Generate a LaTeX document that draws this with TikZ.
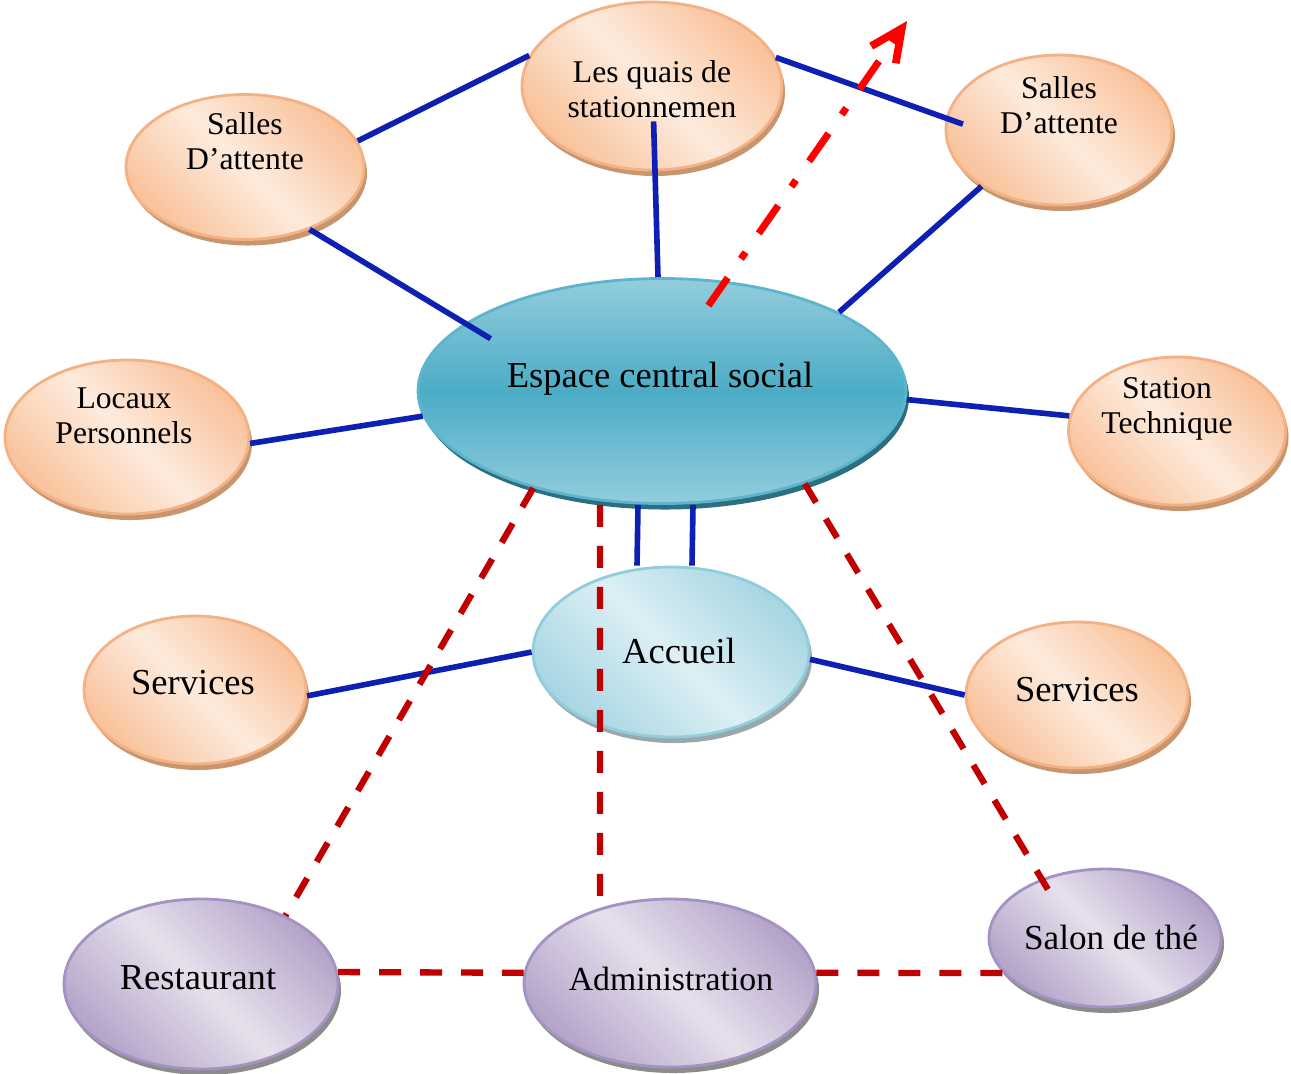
\documentclass[tikz,border=0pt]{standalone}
\usepackage{fontspec}
\setmainfont{Liberation Serif}
\usetikzlibrary{shapes.geometric,shadows,arrows.meta}
\definecolor{peachlight}{HTML}{FDEBDD}
\definecolor{peachdark}{HTML}{F9C29A}
\definecolor{peachline}{HTML}{F4B183}
\definecolor{peachshadow}{HTML}{C8966E}
\definecolor{tealmid}{HTML}{4BACC6}
\definecolor{teallight}{HTML}{93CDDD}
\definecolor{tealline}{HTML}{5BB5CC}
\definecolor{tealshadow}{HTML}{2E6E80}
\definecolor{cyanlight}{HTML}{DCEFF4}
\definecolor{cyandark}{HTML}{A7D6E3}
\definecolor{cyanline}{HTML}{92CDDC}
\definecolor{cyanshadow}{HTML}{9AA8AC}
\definecolor{lilaclight}{HTML}{E6E0EC}
\definecolor{lilacdark}{HTML}{B4A4C9}
\definecolor{lilacline}{HTML}{A293C3}
\definecolor{greyshadow}{HTML}{8C8C8C}
\definecolor{linkblue}{HTML}{0E1FB4}
\definecolor{linkred}{HTML}{C00000}
\definecolor{arrowred}{HTML}{FF0000}
\begin{document}
\begin{tikzpicture}[
	bubble/.style={ellipse, inner sep=0pt, line width=0.8pt},
	peach/.style={bubble, draw=peachline, left color=peachdark, right color=peachdark, middle color=peachlight, shading angle=-45,
		drop shadow={shadow xshift=0.3mm, shadow yshift=-0.6mm, fill=peachshadow, opacity=1}},
	teal/.style={bubble, draw=tealline, top color=teallight, bottom color=teallight, middle color=tealmid,
		drop shadow={shadow xshift=0.3mm, shadow yshift=-0.6mm, fill=tealshadow, opacity=1}},
	cyan/.style={bubble, draw=cyanline, left color=cyandark, right color=cyandark, middle color=cyanlight, shading angle=-45,
		drop shadow={shadow xshift=0.3mm, shadow yshift=-0.6mm, fill=cyanshadow, opacity=1}},
	lilac/.style={bubble, draw=lilacline, left color=lilacdark, right color=lilacdark, middle color=lilaclight, shading angle=-45,
		drop shadow={shadow xshift=0.3mm, shadow yshift=-0.6mm, fill=greyshadow, opacity=1}},
	smalltxt/.style={align=center, inner sep=0pt, font=\fontsize{9}{10}\selectfont},
	bigtxt/.style={inner sep=0pt, font=\fontsize{10.4}{12}\selectfont},
	bluelink/.style={draw=linkblue, line width=1.6pt},
	redlink/.style={draw=linkred, line width=1.8pt, dash pattern=on 2.2mm off 1.9mm},
	exitarrow/.style={draw=arrowred, line width=2pt, dash pattern=on 3.4mm off 2.3mm on 0.8mm off 2.3mm,
		-{Straight Barb[length=3.2mm, width=3mm, line width=2.2pt]}}
	]

	\useasboundingbox (0,0) rectangle (12.91,-10.73);

	% les bulles
	\node[peach, minimum width=2.60cm, minimum height=1.68cm] (quais) at (6.52,-0.86) {};
	\node[peach, minimum width=2.38cm, minimum height=1.45cm] (sallesL) at (2.45,-1.67) {};
	\node[peach, minimum width=2.26cm, minimum height=1.50cm] (sallesR) at (10.59,-1.30) {};
	\node[peach, minimum width=2.44cm, minimum height=1.54cm] (locaux) at (1.27,-4.37) {};
	\node[peach, minimum width=2.17cm, minimum height=1.48cm] (station) at (11.77,-4.31) {};
	\node[teal, minimum width=4.88cm, minimum height=2.25cm] (esp) at (6.62,-3.91) {};
	\node[cyan, minimum width=2.76cm, minimum height=1.70cm] (acc) at (6.71,-6.52) {};
	\node[peach, minimum width=2.22cm, minimum height=1.48cm] (servL) at (1.95,-6.90) {};
	\node[peach, minimum width=2.22cm, minimum height=1.46cm] (servR) at (10.77,-6.95) {};
	\node[lilac, minimum width=2.74cm, minimum height=1.70cm] (rest) at (2.01,-9.84) {};
	\node[lilac, minimum width=2.92cm, minimum height=1.68cm] (adm) at (6.70,-9.83) {};
	\node[lilac, minimum width=2.32cm, minimum height=1.38cm] (salon) at (11.05,-9.38) {};

	% les liaisons
	\draw[bluelink] (sallesL.13) -- (quais.166);
	\draw[bluelink, shorten >=-3mm] (sallesL.-44) -- (esp.161);
	\draw[bluelink, shorten <=-5mm] ([xshift=0.3mm]quais.south) -- ([xshift=-0.4mm]esp.north);
	\draw[bluelink, shorten >=-1.8mm] (quais.13) -- (sallesR.174);
	\draw[bluelink] (sallesR.216) -- (esp.24);
	\draw[bluelink] (locaux.-3) -- (esp.186);
	\draw[bluelink] (esp.-2) -- (station.172);
	\draw[bluelink] ([xshift=-2.4mm]esp.south) -- ([xshift=-3.4mm]acc.north);
	\draw[bluelink] ([xshift=3.1mm]esp.south) -- ([xshift=2.1mm]acc.north);
	\draw[bluelink] (servL.-3) -- (acc.west);
	\draw[bluelink] (acc.-3) -- (servR.west);

	\draw[redlink] (esp.217) -- (rest.39);
	\draw[redlink] ([xshift=-6.2mm]esp.south) -- (adm.133);
	\draw[redlink, shorten >=-2.8mm] (esp.-33) -- (salon.137);
	\draw[redlink] (rest.5) -- (adm.176);
	\draw[redlink] (adm.4) -- (salon.199);

	\coordinate (sortie) at (9.07,-0.21);
	\draw[exitarrow, shorten <=-3mm] (esp.60) -- (sortie);

	% les textes
	\node[smalltxt] (quaistxt) at (6.52,-0.895) {Les quais de\\stationnemen};
	\node[smalltxt] (sallesLtxt) at (2.45,-1.41) {Salles\\D’attente};
	\node[smalltxt] (sallesRtxt) at (10.59,-1.055) {Salles\\D’attente};
	\node[smalltxt] (locauxtxt) at (1.24,-4.16) {Locaux\\Personnels};
	\node[smalltxt] (stationtxt) at (11.67,-4.085) {Station\\Technique};
	\node[bigtxt] (esptxt) at (6.60,-3.79) {Espace central social};
	\node[bigtxt] (acctxt) at (6.79,-6.51) {Accueil};
	\node[bigtxt] (servLtxt) at (1.93,-6.83) {Services};
	\node[bigtxt] (servRtxt) at (10.77,-6.90) {Services};
	\node[bigtxt] (resttxt) at (1.98,-9.78) {Restaurant};
	\node[bigtxt, font=\fontsize{9.6}{12}\selectfont] (admtxt) at (6.71,-9.79) {Administration};
	\node[bigtxt, font=\fontsize{10}{12}\selectfont] (salontxt) at (11.11,-9.37) {Salon de thé};

\end{tikzpicture}
\end{document}
